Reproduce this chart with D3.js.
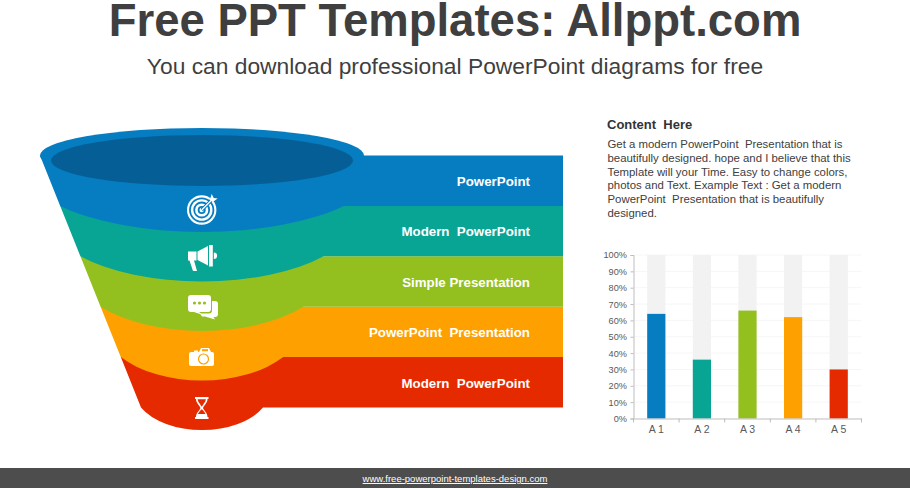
<!DOCTYPE html>
<html><head><meta charset="utf-8">
<script src="https://cdn.jsdelivr.net/npm/d3@7"></script>
<style>html,body{margin:0;padding:0;background:#fff;overflow:hidden}svg{display:block;font-family:"Liberation Sans",Arial,sans-serif}text{white-space:pre}</style>
</head><body><svg id="c" width="910" height="488"></svg>
<script>
const funnelLabels=["PowerPoint","Modern  PowerPoint","Simple Presentation","PowerPoint  Presentation","Modern  PowerPoint"];
const colors=["#067dc1","#08a595","#93c01f","#fea100","#e62a00"];
const barCategories=["A 1","A 2","A 3","A 4","A 5"];
const barValues=[64,36,66,62,30];
const yTicks=[0,10,20,30,40,50,60,70,80,90,100];
const bodyLines=["Get a modern PowerPoint  Presentation that is","beautifully designed. hope and I believe that this","Template will your Time. Easy to change colors,","photos and Text. Example Text : Get a modern","PowerPoint  Presentation that is beautifully","designed."];

const svg=d3.select("#c");
const ink="#3f3f3f";
svg.append("text").attr("x",455).attr("y",36).attr("text-anchor","middle").attr("font-weight",700).attr("font-size",45.5).attr("fill",ink).text("Free PPT Templates: Allppt.com");
svg.append("text").attr("x",455).attr("y",74).attr("text-anchor","middle").attr("font-size",22.8).attr("fill",ink).text("You can download professional PowerPoint diagrams for free");

// funnel
const cx=202, barRight=563;
const yEdge=d3.scaleLinear().domain([0,5]).range([155.5,407.5]);
const halfW=d3.scaleLinear().domain([0,5]).range([162,61]);
const ry=d3.scaleLinear().domain([1,5]).range([26,22.5]);
const order=d3.range(funnelLabels.length).reverse();
const gF=svg.append("g");
gF.selectAll("path.layer").data(order).join("path").attr("class","layer")
  .attr("fill",i=>colors[i])
  .attr("d",i=>{
    const t=yEdge(i),b=yEdge(i+1),wt=halfW(i),wb=halfW(i+1),r=ry(i+1);
    const k=i===order[0]?1.12:1.25;
    const R=r/(1-Math.sqrt(1-1/(k*k)));
    return `M${cx-wt},${t}L${cx-wb},${b}A${wb*k},${R} 0 0 0 ${cx+wb},${b}L${barRight},${b}L${barRight},${t}Z`;
  });
gF.append("ellipse").attr("cx",cx).attr("cy",yEdge(0)).attr("rx",halfW(0)).attr("ry",27.5).attr("fill",colors[0]);
gF.append("ellipse").attr("cx",cx).attr("cy",yEdge(0)+5).attr("rx",151).attr("ry",25.5).attr("fill","#055f96");
svg.selectAll("text.flabel").data(funnelLabels).join("text").attr("class","flabel")
  .attr("x",530).attr("y",(d,i)=>(yEdge(i)+yEdge(i+1))/2+5.2).attr("text-anchor","end")
  .attr("font-weight",700).attr("font-size",13.3).attr("fill","#fff").text(d=>d);

// icons
const W="#fff";
const t=svg.append("g").attr("transform","translate(201.7,210)");
[[14.7,W],[12.6,colors[0]],[10.8,W],[8.4,colors[0]],[6.6,W],[4,colors[0]],[2.2,W]].forEach(([r,f])=>t.append("circle").attr("r",r).attr("fill",f));
t.append("path").attr("d","M0,0L11,-11").attr("stroke",colors[0]).attr("stroke-width",3.2);
t.append("path").attr("d","M0,0L11,-11").attr("stroke",W).attr("stroke-width",1.3);
t.append("path").attr("d","M8,-10L10,-16L12,-12L16,-11.5L11,-8Z").attr("fill",W);

const m=svg.append("g").attr("transform","translate(188,245)").attr("fill",W);
m.append("path").attr("d","M0,6.5H8.5V15.5H6L9,26H5L1.5,15.5H0Z");
m.append("path").attr("d","M9.5,6.5L20,1V20.5L9.5,15Z");
m.append("rect").attr("x",21).attr("y",0).attr("width",3.8).attr("height",21.5);
m.append("path").attr("d","M25.8,7.5a3.2,3.2 0 0 1 0,6.5Z");

const c=svg.append("g").attr("transform","translate(188,295)");
c.append("path").attr("fill",W).attr("d","M24,6H27a3,3 0 0 1 3,3V19a3,3 0 0 1-3,3H25.5L27,24.5L17,21.5H14L12,18.5H21a3,3 0 0 0 3-3Z");
c.append("path").attr("fill",W).attr("d","M3,0H20a3,3 0 0 1 3,3V14a3,3 0 0 1-3,3H11L15,20L6,17H3a3,3 0 0 1-3-3V3a3,3 0 0 1 3-3Z");
c.selectAll("circle").data([6.5,11.5,16.5]).join("circle").attr("cx",d=>d).attr("cy",8).attr("r",1.6).attr("fill",colors[2]);

const p=svg.append("g").attr("transform","translate(189,347)");
p.append("path").attr("fill",W).attr("d","M2,5H5V3.5H9V5H10L12,1H20L22,5H23a2,2 0 0 1 2,2V17a2,2 0 0 1-2,2H2a2,2 0 0 1-2-2V7a2,2 0 0 1 2-2Z");
p.append("rect").attr("x",13).attr("y",2.2).attr("width",6).attr("height",2).attr("fill",colors[3]);
p.append("circle").attr("cx",14.5).attr("cy",12).attr("r",5).attr("fill",W).attr("stroke",colors[3]).attr("stroke-width",1.2);

const h=svg.append("g").attr("transform","translate(195,397)");
h.append("path").attr("fill",W).attr("d","M0,0H13.5V2H12.5C12.5,6 9,8 8,11C9,13.5 12.5,16 12.5,20H13.5V22H0V20H1C1,16 4.5,13.5 5.5,11C4.5,8 1,6 1,2H0Z");
h.append("path").attr("fill",colors[4]).attr("d","M2.6,2.2H10.9C10.6,5 8.5,6.5 7,9.5H6.5C5,6.5 2.9,5 2.6,2.2Z");
h.append("path").attr("fill",colors[4]).attr("d","M6.2,12.5H7.3C8.5,14 10,15.5 10.6,17H2.9C3.5,15.5 5,14 6.2,12.5Z");

// text block
svg.append("text").attr("x",607).attr("y",129).attr("font-weight",700).attr("font-size",13).attr("fill","#333").text("Content  Here");
svg.selectAll("text.body").data(bodyLines).join("text").attr("class","body")
  .attr("x",607.5).attr("y",(d,i)=>148+i*13.8).attr("font-size",11.4).attr("fill","#404040").text(d=>d);

// bar chart
const xOuter=d3.scaleBand().domain(barCategories).range([633.5,861.5]);
const y=d3.scaleLinear().domain([0,100]).range([418.5,255]);
const gC=svg.append("g");
gC.selectAll("line.grid").data(yTicks.slice(1)).join("line").attr("class","grid")
  .attr("x1",633.5).attr("x2",861.5).attr("y1",d=>y(d)).attr("y2",d=>y(d)).attr("stroke","#f6f6f6");
const bw=18.2, bx=d=>xOuter(d)+(xOuter.bandwidth()-bw)/2;
gC.selectAll("rect.bg").data(barCategories).join("rect").attr("class","bg")
  .attr("x",bx).attr("width",bw).attr("y",y(100)).attr("height",y(0)-y(100)).attr("fill","#f2f2f2");
gC.selectAll("rect.val").data(barCategories).join("rect").attr("class","val")
  .attr("x",bx).attr("width",bw).attr("y",(d,i)=>y(barValues[i])).attr("height",(d,i)=>y(0)-y(barValues[i])).attr("fill",(d,i)=>colors[i]);
const yAxis=gC.append("g").attr("transform","translate(633.5,0)").call(d3.axisLeft(y).tickValues(yTicks).tickFormat(d=>d+"%").tickSize(3).tickPadding(3.5));
const xAxis=gC.append("g").attr("transform","translate(0,418.5)").call(d3.axisBottom(xOuter).tickSize(0).tickPadding(7));
xAxis.selectAll("line.b").data(d3.range(6)).join("line").attr("class","b")
  .attr("x1",i=>633.5+i*xOuter.bandwidth()).attr("x2",i=>633.5+i*xOuter.bandwidth()).attr("y1",0).attr("y2",4).attr("stroke","#bdbdbd");
[yAxis,xAxis].forEach(a=>{a.select(".domain").attr("stroke","#bdbdbd");a.selectAll(".tick line").attr("stroke","#bdbdbd");
  a.selectAll("text").attr("font-family","'Liberation Sans',Arial,sans-serif").attr("font-size",9.2).attr("fill","#595959");});
xAxis.selectAll("text").attr("font-size",10.5);

// footer
svg.append("rect").attr("x",0).attr("y",468).attr("width",910).attr("height",20).attr("fill","#4d4d4d");
svg.append("text").attr("x",455).attr("y",482).attr("text-anchor","middle").attr("font-size",9.5).attr("fill","#fff").attr("text-decoration","underline").text("www.free-powerpoint-templates-design.com");
</script></body></html>
